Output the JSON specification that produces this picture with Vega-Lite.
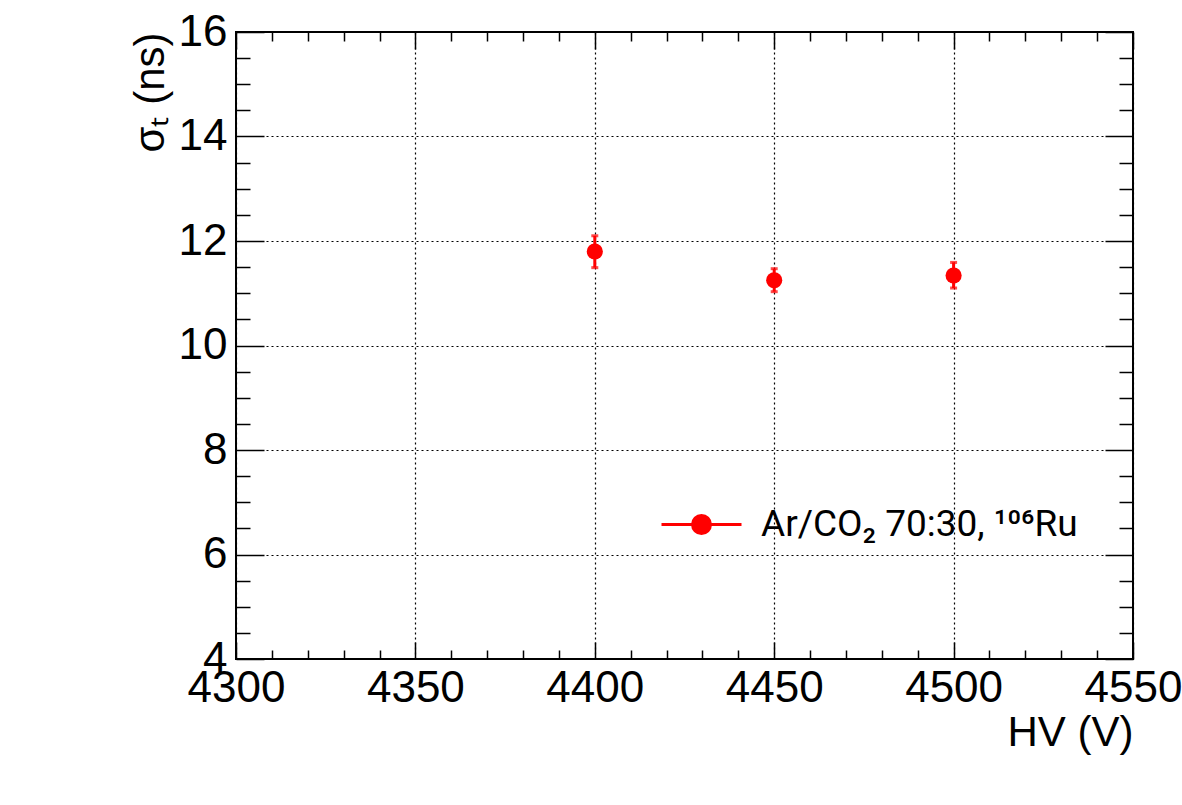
{
  "$schema": "https://vega.github.io/schema/vega-lite/v6.json",
  "autosize": {"type": "none"},
  "width": 897,
  "height": 627,
  "padding": {"left": 236, "top": 32, "right": 49, "bottom": 146},
  "background": "white",
  "config": {
    "view": {"stroke": "black", "strokeWidth": 2},
    "font": "Liberation Sans"
  },
  "data": {
    "values": [
      {"hv": 4400, "sigma": 11.80, "lo": 11.49, "hi": 12.10, "series": "Ar/CO₂ 70:30, ¹⁰⁶Ru"},
      {"hv": 4450, "sigma": 11.25, "lo": 11.03, "hi": 11.47, "series": "Ar/CO₂ 70:30, ¹⁰⁶Ru"},
      {"hv": 4500, "sigma": 11.34, "lo": 11.10, "hi": 11.59, "series": "Ar/CO₂ 70:30, ¹⁰⁶Ru"}
    ]
  },
  "resolve": {"axis": {"x": "independent", "y": "independent"}},
  "layer": [
    {
      "mark": {"type": "rule", "color": "#ff0000", "strokeWidth": 3},
      "encoding": {
        "x": {
          "field": "hv", "type": "quantitative",
          "scale": {"domain": [4300, 4550], "nice": false, "zero": false},
          "axis": {
            "orient": "bottom",
            "values": [4300, 4350, 4400, 4450, 4500, 4550],
            "format": "d",
            "labelFont": "Liberation Sans", "labelFontSize": 44, "labelColor": "black",
            "labelPadding": 7, "labelFlush": false, "labelOverlap": false, "labelBound": false,
            "ticks": false, "domain": false,
            "grid": true, "gridColor": "black", "gridDash": [2, 3], "gridWidth": 1.2, "gridOpacity": 1,
            "title": "HV (V)", "titleAnchor": "end", "titleFont": "Liberation Sans",
            "titleFontSize": 42, "titleFontWeight": "normal", "titleColor": "black", "titlePadding": 2
          }
        },
        "y": {
          "field": "lo", "type": "quantitative",
          "scale": {"domain": [4, 16], "nice": false, "zero": false},
          "axis": {
            "orient": "left",
            "values": [4, 6, 8, 10, 12, 14, 16],
            "format": "d",
            "labelFont": "Liberation Sans", "labelFontSize": 44, "labelColor": "black",
            "labelPadding": 9, "labelFlush": false, "labelOverlap": false, "labelBound": false,
            "ticks": false, "domain": false,
            "grid": true, "gridColor": "black", "gridDash": [2, 3], "gridWidth": 1.2, "gridOpacity": 1,
            "title": "σₜ (ns)", "titleAnchor": "end", "titleFont": "Liberation Sans",
            "titleFontSize": 42, "titleFontWeight": "normal", "titleColor": "black", "titlePadding": 6
          }
        },
        "y2": {"field": "hi"}
      }
    },
    {
      "mark": {"type": "tick", "color": "#ff0000", "orient": "horizontal", "size": 7, "thickness": 3},
      "encoding": {
        "x": {"field": "hv", "type": "quantitative", "axis": null},
        "y": {"field": "hi", "type": "quantitative", "axis": null}
      }
    },
    {
      "mark": {"type": "tick", "color": "#ff0000", "orient": "horizontal", "size": 7, "thickness": 3},
      "encoding": {
        "x": {"field": "hv", "type": "quantitative", "axis": null},
        "y": {"field": "lo", "type": "quantitative", "axis": null}
      }
    },
    {
      "mark": {"type": "point", "shape": "circle", "filled": true, "size": 260, "opacity": 1},
      "encoding": {
        "x": {
          "field": "hv", "type": "quantitative",
          "axis": {
            "orient": "bottom",
            "values": [4300, 4310, 4320, 4330, 4340, 4350, 4360, 4370, 4380, 4390, 4400, 4410, 4420, 4430, 4440, 4450, 4460, 4470, 4480, 4490, 4500, 4510, 4520, 4530, 4540, 4550],
            "labels": false, "domain": false, "grid": false, "title": null,
            "ticks": true, "tickColor": "black", "tickWidth": 1.5,
            "tickSize": {"condition": {"test": "datum.value % 50 === 0", "value": -17}, "value": -9}
          }
        },
        "y": {
          "field": "sigma", "type": "quantitative",
          "axis": {
            "orient": "left",
            "values": [4, 4.5, 5, 5.5, 6, 6.5, 7, 7.5, 8, 8.5, 9, 9.5, 10, 10.5, 11, 11.5, 12, 12.5, 13, 13.5, 14, 14.5, 15, 15.5, 16],
            "labels": false, "domain": false, "grid": false, "title": null,
            "ticks": true, "tickColor": "black", "tickWidth": 1.5,
            "tickSize": {"condition": {"test": "datum.value % 2 === 0", "value": -28}, "value": -14}
          }
        },
        "color": {
          "field": "series", "type": "nominal",
          "scale": {"range": ["#ff0000"]},
          "legend": {
            "title": null,
            "orient": "none",
            "legendX": 424,
            "legendY": 451,
            "padding": 0,
            "symbolType": "M-1,0H1M0.225,0A0.225,0.225,0,1,1,-0.225,0A0.225,0.225,0,1,1,0.225,0Z",
            "symbolSize": 6400,
            "symbolFillColor": "#ff0000",
            "symbolStrokeColor": "#ff0000",
            "symbolStrokeWidth": 3,
            "labelFont": "Roboto",
            "labelFontSize": 37,
            "labelColor": "black",
            "labelOffset": 18,
            "labelLimit": 0,
            "encode": {
              "symbols": {"update": {"stroke": {"value": "#ff0000"}, "strokeWidth": {"value": 3}, "fill": {"value": "#ff0000"}, "opacity": {"value": 1}}}
            }
          }
        }
      }
    },
    {
      "mark": {"type": "point", "opacity": 0},
      "encoding": {
        "x": {
          "field": "hv", "type": "quantitative",
          "axis": {
            "orient": "top",
            "values": [4300, 4310, 4320, 4330, 4340, 4350, 4360, 4370, 4380, 4390, 4400, 4410, 4420, 4430, 4440, 4450, 4460, 4470, 4480, 4490, 4500, 4510, 4520, 4530, 4540, 4550],
            "labels": false, "domain": false, "grid": false, "title": null,
            "ticks": true, "tickColor": "black", "tickWidth": 1.5,
            "tickSize": {"condition": {"test": "datum.value % 50 === 0", "value": -17}, "value": -9}
          }
        },
        "y": {
          "field": "sigma", "type": "quantitative",
          "axis": {
            "orient": "right",
            "values": [4, 4.5, 5, 5.5, 6, 6.5, 7, 7.5, 8, 8.5, 9, 9.5, 10, 10.5, 11, 11.5, 12, 12.5, 13, 13.5, 14, 14.5, 15, 15.5, 16],
            "labels": false, "domain": false, "grid": false, "title": null,
            "ticks": true, "tickColor": "black", "tickWidth": 1.5,
            "tickSize": {"condition": {"test": "datum.value % 2 === 0", "value": -28}, "value": -14}
          }
        }
      }
    }
  ]
}
